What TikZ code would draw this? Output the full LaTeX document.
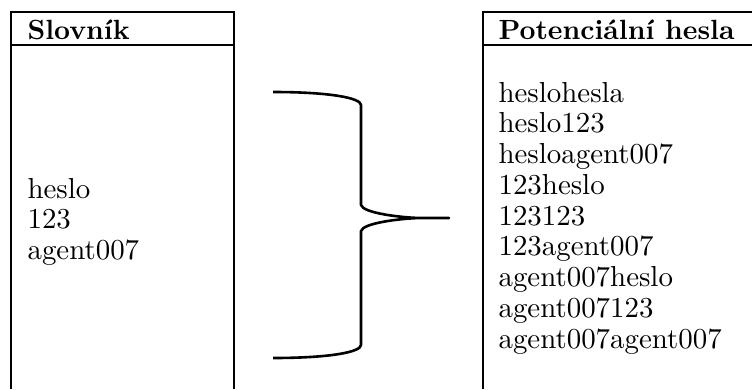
\documentclass[tikz,border=0pt]{standalone}
\begin{document}
\begin{tikzpicture}[x=1pt,y=-1pt,
  boxline/.style={line width=1.3pt},
  braceline/.style={line width=2.6pt},
  txt/.style={anchor=base west,inner sep=0pt,scale=2.89,font=\normalsize},
  head/.style={anchor=base west,inner sep=0pt,scale=2.78,font=\normalsize\bfseries}]
\useasboundingbox (0,0) rectangle (752,389);
% left box
\draw[boxline] (11,389) -- (11,12) -- (234,12) -- (234,389);
\draw[boxline] (11,45) -- (234,45);
\node[head] (hl) at (27,39) {Slovník};
\foreach \t [count=\i] in {heslo,123,agent007}
  \node[txt] (l\i) at (27,198+30.5*\i-30.5) {\t};
% right box
\draw[boxline] (483,389) -- (483,12) -- (752,12);
\draw[boxline] (483,45) -- (752,45);
\node[head] (hr) at (498,39) {Potenciální hesla};
\foreach \t [count=\i] in {heslohesla,heslo123,hesloagent007,123heslo,123123,123agent007,agent007heslo,agent007123,agent007agent007}
  \node[txt] (r\i) at (498,102+30.75*\i-30.75) {\t};
% brace
\coordinate (bt) at (273,92);
\coordinate (bb) at (273,358);
\coordinate (tip) at (449,218);
\draw[braceline,line join=round] (bt) .. controls (330,92) and (361,98) .. (361,105)
  -- (361,205) .. controls (363,213) and (400,217.5) .. (420,218) -- (tip)
  -- (420,218) .. controls (400,218.5) and (363,223) .. (361,231)
  -- (361,345) .. controls (361,352) and (330,358) .. (bb);
\end{tikzpicture}
\end{document}
